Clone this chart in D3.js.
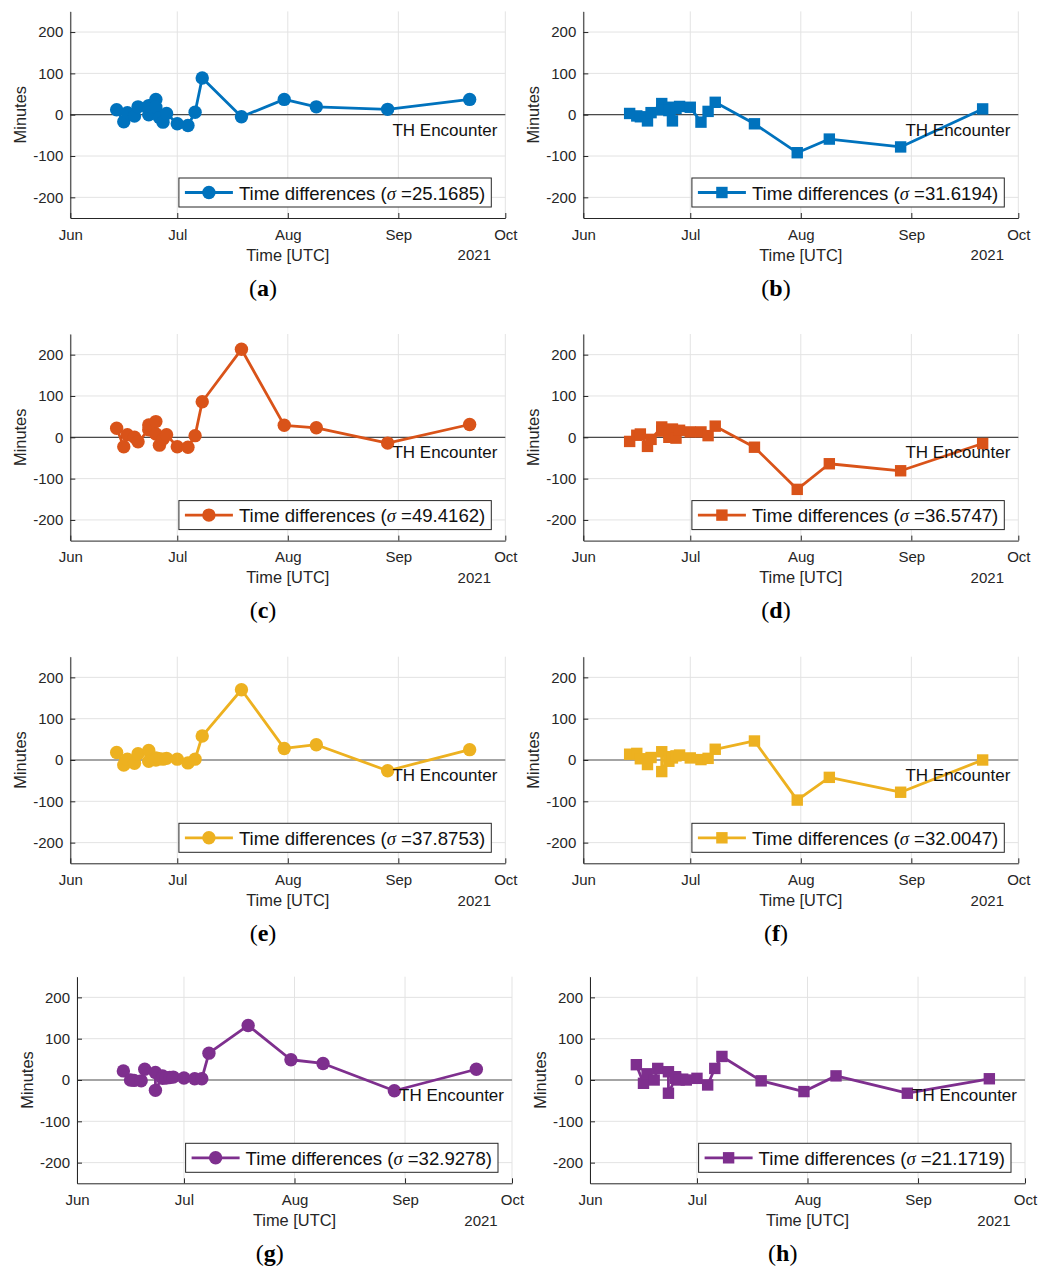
<!DOCTYPE html>
<html>
<head>
<meta charset="utf-8">
<script src="https://cdn.jsdelivr.net/npm/d3@7"></script>
<style>
  html, body { margin: 0; padding: 0; background: #fff; }
  svg { display: block; }
</style>
</head>
<body>
<svg id="fig" width="1048" height="1270"></svg>
<script>
// Encounter dates (UTC) shared by every panel
const dates = [
  "2021-06-14", "2021-06-16", "2021-06-17", "2021-06-19", "2021-06-20",
  "2021-06-23", "2021-06-23", "2021-06-25", "2021-06-25", "2021-06-26",
  "2021-06-27", "2021-06-28", "2021-07-01", "2021-07-04", "2021-07-06",
  "2021-07-08", "2021-07-19", "2021-07-31", "2021-08-09", "2021-08-29",
  "2021-09-21"
];

// Time differences in minutes, one list per panel
const valuesA = [12, -17, 5, -3, 19, 0, 22, 37, 18, -7, -18, 3, -22, -26, 6, 89, -5, 37, 19, 13, 37];
const valuesB = [3, -3, -5, -15, 5, 27, 12, 18, 10, -15, 15, 20, 18, -18, 8, 30, -22, -92, -59, -78, 14];
const valuesC = [22, -23, 6, 0, -11, 18, 30, 38, 8, -19, -4, 6, -23, -24, 4, 86, 213, 29, 23, -14, 31];
const valuesD = [-10, 5, 8, -22, -5, 25, 15, 0, 10, 20, -2, 17, 13, 13, 4, 27, -24, -126, -64, -81, -15];
const valuesE = [18, -12, 2, -8, 15, 23, -3, 5, 0, 3, 2, 4, 2, -7, 2, 58, 170, 28, 37, -26, 25];
const valuesF = [14, 16, 3, -11, 6, 20, -28, 8, -3, 5, 10, 12, 5, 1, 4, 26, 46, -97, -42, -78, 0];
const valuesG = [22, 0, -1, -2, 26, 18, -25, 10, 4, 5, 6, 7, 5, 3, 3, 65, 132, 49, 40, -26, 26];
const valuesH = [37, -8, 15, 0, 28, 20, -32, 4, 8, 0, 2, 0, 4, -12, 28, 57, -2, -28, 10, -32, 3];

const sigmaLabels = ["25.1685", "31.6194", "49.4162", "36.5747", "37.8753", "32.0047", "32.9278", "21.1719"];
const panelLetters = ["a", "b", "c", "d", "e", "f", "g", "h"];
const monthTicks = ["2021-06-01", "2021-07-01", "2021-08-01", "2021-09-01", "2021-10-01"];
const yTicks = [-200, -100, 0, 100, 200];
const yDomain = [-250, 250];
const yearLabel = "2021";

const allValues = [valuesA, valuesB, valuesC, valuesD, valuesE, valuesF, valuesG, valuesH];
const parse = d3.utcParse("%Y-%m-%d");
const monthDates = monthTicks.map(parse);

// Panel placement on the page
const colors = ["#0072BD", "#0072BD", "#D95319", "#D95319", "#EDB120", "#EDB120", "#7E2F8E", "#7E2F8E"];
const layout = [
  { x0: 70.3, zero: 114.7, marker: "circle", zeroColor: "#4a4a4a" },
  { x0: 583.3, zero: 114.7, marker: "square", zeroColor: "#4a4a4a" },
  { x0: 70.3, zero: 437.3, marker: "circle", zeroColor: "#4a4a4a" },
  { x0: 583.3, zero: 437.3, marker: "square", zeroColor: "#4a4a4a" },
  { x0: 70.3, zero: 760, marker: "circle", zeroColor: "#8a8a8a" },
  { x0: 583.3, zero: 760, marker: "square", zeroColor: "#8a8a8a" },
  { x0: 77, zero: 1080, marker: "circle", zeroColor: "#8a8a8a" },
  { x0: 590, zero: 1080, marker: "square", zeroColor: "#8a8a8a" }
];
const axW = 435;
const halfH = 103.3;
const axisColor = "#262626";
const sans = "'Liberation Sans', Arial, Helvetica, sans-serif";
const lineW = 2.8;

const svg = d3.select("#fig");

layout.forEach((L, i) => {
  const x1 = L.x0 + axW;
  const top = L.zero - halfH, bottom = L.zero + halfH;
  const x = d3.scaleUtc().domain([monthDates[0], monthDates[monthDates.length - 1]]).range([L.x0, x1]);
  const y = d3.scaleLinear().domain(yDomain).range([bottom, top]);
  const data = dates.map((d, k) => ({ date: parse(d), v: allValues[i][k] }));
  const color = colors[i];
  const g = svg.append("g");

  // grid
  g.append("g").selectAll("line").data(monthDates).join("line")
    .attr("x1", d => x(d)).attr("x2", d => x(d))
    .attr("y1", top).attr("y2", bottom)
    .attr("stroke", "#e3e3e3").attr("stroke-width", 1);
  g.append("g").selectAll("line").data(yTicks).join("line")
    .attr("x1", L.x0).attr("x2", x1)
    .attr("y1", d => y(d)).attr("y2", d => y(d))
    .attr("stroke", "#e3e3e3").attr("stroke-width", 1);

  // zero reference line
  g.append("line")
    .attr("x1", L.x0).attr("x2", x1).attr("y1", y(0)).attr("y2", y(0))
    .attr("stroke", L.zeroColor).attr("stroke-width", 1.3);

  // axes
  const ya = g.append("g").attr("transform", `translate(${L.x0},0)`)
    .call(d3.axisLeft(y).tickValues(yTicks).tickSizeInner(-5).tickSizeOuter(0).tickPadding(7)
      .tickFormat(d => d < 0 ? "-" + Math.abs(d) : d));
  const xa = g.append("g").attr("transform", `translate(0,${bottom})`)
    .call(d3.axisBottom(x).tickValues(monthDates).tickSizeInner(-5).tickSizeOuter(0).tickPadding(11)
      .tickFormat(d3.utcFormat("%b")));
  [ya, xa].forEach(a => {
    a.select(".domain").attr("stroke", axisColor).attr("stroke-width", 1);
    a.selectAll(".tick line").attr("stroke", axisColor);
    a.selectAll(".tick text").attr("fill", axisColor).attr("font-family", sans).attr("font-size", 15);
  });

  // axis labels
  g.append("text").attr("x", (L.x0 + x1) / 2).attr("y", bottom + 38.5)
    .attr("text-anchor", "middle").attr("dominant-baseline", "middle")
    .attr("font-family", sans).attr("font-size", 16.4).attr("fill", axisColor)
    .text("Time [UTC]");
  g.append("text").attr("x", x1 - 31).attr("y", bottom + 38.5)
    .attr("text-anchor", "middle").attr("dominant-baseline", "middle")
    .attr("font-family", sans).attr("font-size", 15).attr("fill", axisColor)
    .text(yearLabel);
  g.append("text")
    .attr("transform", `translate(${L.x0 - 48.5},${L.zero}) rotate(-90)`)
    .attr("text-anchor", "middle").attr("dominant-baseline", "middle")
    .attr("font-family", sans).attr("font-size", 16.4).attr("fill", axisColor)
    .text("Minutes");

  // series line
  g.append("path").datum(data)
    .attr("fill", "none").attr("stroke", color).attr("stroke-width", lineW)
    .attr("stroke-linejoin", "round")
    .attr("d", d3.line().x(d => x(d.date)).y(d => y(d.v)));

  // markers
  if (L.marker === "circle") {
    g.append("g").selectAll("circle").data(data).join("circle")
      .attr("cx", d => x(d.date)).attr("cy", d => y(d.v)).attr("r", 6.7)
      .attr("fill", color);
  } else {
    g.append("g").selectAll("rect").data(data).join("rect")
      .attr("x", d => x(d.date) - 5.7).attr("y", d => y(d.v) - 5.7)
      .attr("width", 11.4).attr("height", 11.4).attr("fill", color);
  }

  // encounter annotation
  g.append("text").attr("x", x1 - 8).attr("y", L.zero + 21)
    .attr("text-anchor", "end").attr("font-family", sans).attr("font-size", 17)
    .attr("fill", "#111").text("TH Encounter");

  // legend
  const lg = g.append("g");
  const boxRight = x1 - 14, boxTop = bottom - 40, boxH = 29;
  const rect = lg.append("rect").attr("y", boxTop).attr("height", boxH)
    .attr("fill", "#fff").attr("stroke", axisColor).attr("stroke-width", 1);
  const txt = lg.append("text").attr("y", boxTop + boxH / 2)
    .attr("dominant-baseline", "central").attr("text-anchor", "end")
    .attr("x", boxRight - 6)
    .attr("font-family", sans).attr("font-size", 18.6).attr("fill", "#111");
  txt.append("tspan").text("Time differences (");
  txt.append("tspan").attr("font-family", "'Liberation Serif', 'Times New Roman', serif")
    .attr("font-style", "italic").text("σ");
  txt.append("tspan").text(" =" + sigmaLabels[i] + ")");
  const tw = txt.node().getComputedTextLength();
  const textStart = boxRight - 6 - tw;
  rect.attr("x", textStart - 60).attr("width", boxRight - (textStart - 60));
  lg.append("line").attr("x1", textStart - 54).attr("x2", textStart - 6)
    .attr("y1", boxTop + boxH / 2).attr("y2", boxTop + boxH / 2)
    .attr("stroke", color).attr("stroke-width", lineW);
  const mx = textStart - 30, my = boxTop + boxH / 2;
  if (L.marker === "circle") {
    lg.append("circle").attr("cx", mx).attr("cy", my).attr("r", 6.7).attr("fill", color);
  } else {
    lg.append("rect").attr("x", mx - 5.7).attr("y", my - 5.7).attr("width", 11.4).attr("height", 11.4).attr("fill", color);
  }

  // sub-figure letter
  const lab = svg.append("text").attr("x", L.x0 + 192.7).attr("y", L.zero + 175)
    .attr("text-anchor", "middle").attr("dominant-baseline", "middle")
    .attr("font-family", "'Liberation Serif', 'DejaVu Serif', serif").attr("font-size", 24)
    .attr("fill", "#000");
  lab.append("tspan").text("(");
  lab.append("tspan").attr("font-weight", "bold").text(panelLetters[i]);
  lab.append("tspan").text(")");
});
</script>
</body>
</html>
